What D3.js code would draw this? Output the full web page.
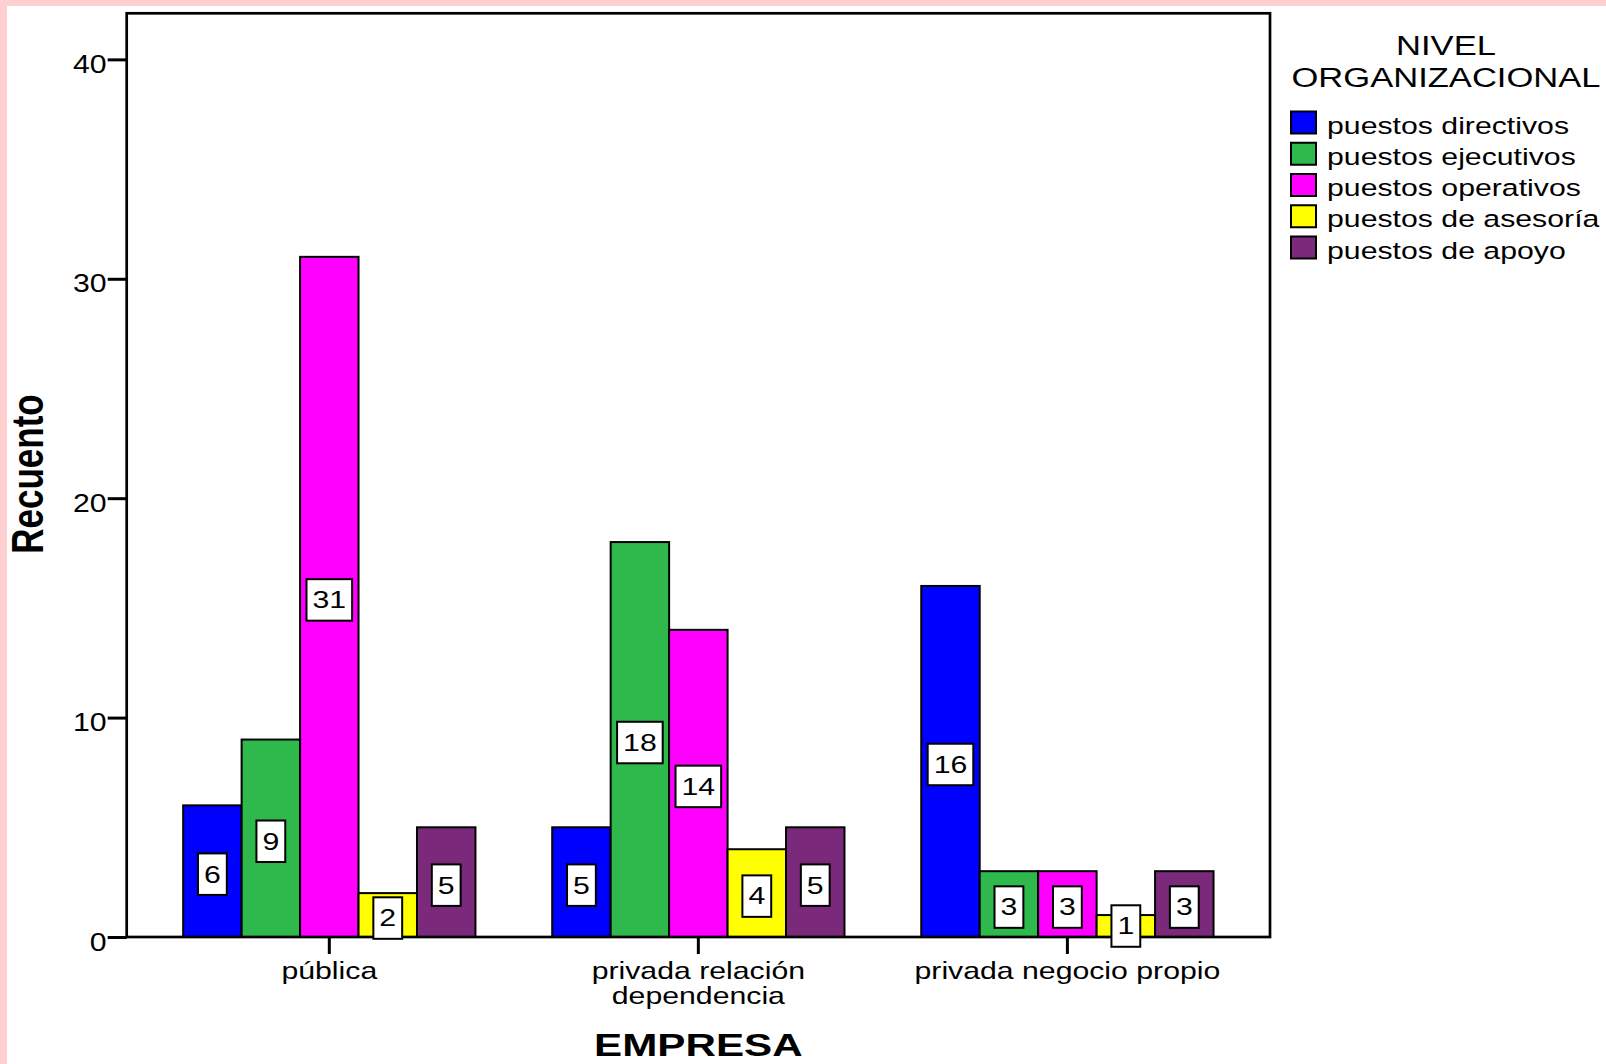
<!DOCTYPE html>
<html>
<head>
<meta charset="utf-8">
<script src="https://cdn.jsdelivr.net/npm/d3@7/dist/d3.min.js"></script>
<style>
  html, body { margin: 0; padding: 0; background: #ffffff; }
  svg { display: block; }
  text { font-family: "Liberation Sans", Arial, Helvetica, sans-serif; fill: #000; }
</style>
</head>
<body>
<script>
// Categories on the x axis ("\n" marks a line break in the tick label)
const categories = ["pública", "privada relación\ndependencia", "privada negocio propio"];

// Legend series
const seriesNames = ["puestos directivos", "puestos ejecutivos", "puestos operativos", "puestos de asesoría", "puestos de apoyo"];

// Counts per series, one value per category
const valuesDirectivos = [6, 5, 16];
const valuesEjecutivos = [9, 18, 3];
const valuesOperativos = [31, 14, 3];
const valuesAsesoria   = [2, 4, 1];
const valuesApoyo      = [5, 5, 3];

const seriesColors = ["#0000ff", "#2fb84b", "#ff00ff", "#ffff00", "#7b2a7b"];

const yTicks = [0, 10, 20, 30, 40];
const yMax = 42.1;

const legendTitle = ["NIVEL", "ORGANIZACIONAL"];
const xTitle = "EMPRESA";
const yTitle = "Recuento";

const seriesValues = [valuesDirectivos, valuesEjecutivos, valuesOperativos, valuesAsesoria, valuesApoyo];

// ---- layout ----
const W = 1606, H = 1064;
const plot = { left: 126.7, right: 1270, top: 13.3, bottom: 937 };
const SX = 1.26;            // horizontal text stretch
const FONT = 24;

const svg = d3.select("body").append("svg").attr("width", W).attr("height", H);

// page background with the pink edge strips
svg.append("rect").attr("width", W).attr("height", H).attr("fill", "#ffffff");
svg.append("rect").attr("x", 0).attr("y", 0).attr("width", W).attr("height", 6).attr("fill", "#ffd0d0");
svg.append("rect").attr("x", 0).attr("y", 0).attr("width", 7).attr("height", H).attr("fill", "#ffd0d0");

const y = d3.scaleLinear().domain([0, yMax]).range([plot.bottom, plot.top]);
const x0 = d3.scaleBand().domain(categories).range([plot.left, plot.right])
  .paddingInner(0.208).paddingOuter(0.153);
const x1 = d3.scaleBand().domain(seriesNames).range([0, x0.bandwidth()]).padding(0);

// flat list of bars
const bars = [];
categories.forEach((cat, i) => {
  seriesNames.forEach((s, j) => {
    bars.push({ cat, series: s, value: seriesValues[j][i], color: seriesColors[j] });
  });
});

// bars
svg.append("g").selectAll("rect").data(bars).join("rect")
  .attr("x", d => x0(d.cat) + x1(d.series))
  .attr("y", d => y(d.value))
  .attr("width", x1.bandwidth())
  .attr("height", d => y(0) - y(d.value))
  .attr("fill", d => d.color)
  .attr("stroke", "#000")
  .attr("stroke-width", 2);

// plot frame
svg.append("rect")
  .attr("x", plot.left).attr("y", plot.top)
  .attr("width", plot.right - plot.left).attr("height", plot.bottom - plot.top)
  .attr("fill", "none").attr("stroke", "#000").attr("stroke-width", 2.7);

// y axis
const yAxis = svg.append("g").attr("transform", `translate(${plot.left},0)`)
  .call(d3.axisLeft(y).tickValues(yTicks).tickSize(19).tickPadding(1));
yAxis.select(".domain").remove();
yAxis.selectAll(".tick line").attr("stroke", "#000").attr("stroke-width", 3);
yAxis.selectAll(".tick text").each(function () {
  const t = d3.select(this);
  const xx = +t.attr("x");
  t.attr("x", 0).attr("dy", null).attr("y", 0)
    .attr("font-size", 25).attr("font-family", null)
    .attr("transform", `translate(${xx},13.2) scale(1.21,1)`);
});

// x axis
const xAxis = svg.append("g").attr("transform", `translate(0,${plot.bottom})`)
  .call(d3.axisBottom(x0).tickSize(17).tickSizeOuter(0).tickPadding(0));
xAxis.select(".domain").remove();
xAxis.selectAll(".tick line").attr("stroke", "#000").attr("stroke-width", 3);
xAxis.selectAll(".tick text").each(function (d) {
  const t = d3.select(this);
  const lines = d.split("\n");
  t.text(null).attr("y", 0).attr("dy", null).attr("font-size", FONT).attr("font-family", null)
    .attr("transform", `translate(0,42) scale(${SX},1)`);
  lines.forEach((ln, k) => {
    t.append("tspan").attr("x", 0).attr("y", k * 25.2).text(ln);
  });
});

// value labels
const lab = svg.append("g");
bars.forEach(d => {
  const cx = x0(d.cat) + x1(d.series) + x1.bandwidth() / 2;
  const cy = y(d.value / 2) + (d.value > 1 ? 3 : 0);
  const g = lab.append("g");
  const box = g.append("rect");
  const t = g.append("text")
    .attr("font-size", FONT)
    .attr("text-anchor", "middle")
    .attr("dominant-baseline", "central")
    .attr("transform", `translate(${cx},${cy}) scale(${SX},1)`)
    .text(d.value);
  const w = t.node().getComputedTextLength() * SX + 12;
  const h = 41.5;
  box.attr("x", cx - w / 2).attr("y", cy - h / 2).attr("width", w).attr("height", h)
    .attr("fill", "#fff").attr("stroke", "#000").attr("stroke-width", 2);
});

// axis titles
svg.append("text")
  .attr("font-size", 31).attr("font-weight", "bold").attr("text-anchor", "middle")
  .attr("transform", `translate(${(plot.left + plot.right) / 2},1056) scale(1.36,1)`)
  .text(xTitle);

svg.append("text")
  .attr("font-size", 35).attr("font-weight", "bold").attr("text-anchor", "middle")
  .attr("transform", `translate(42.5,474) scale(1.28,1) rotate(-90)`)
  .text(yTitle);

// legend
const legend = svg.append("g");
legendTitle.forEach((ln, k) => {
  legend.append("text")
    .attr("font-size", 27).attr("text-anchor", "middle")
    .attr("transform", `translate(1446,${55 + k * 32}) scale(1.28,1)`)
    .text(ln);
});
seriesNames.forEach((s, i) => {
  const top = 111.5 + i * 31.25;
  legend.append("rect")
    .attr("x", 1291).attr("y", top).attr("width", 25).attr("height", 22)
    .attr("fill", seriesColors[i]).attr("stroke", "#000").attr("stroke-width", 2);
  legend.append("text")
    .attr("font-size", 24.5)
    .attr("transform", `translate(1327,${top + 22}) scale(1.235,1)`)
    .text(s);
});
</script>
</body>
</html>
